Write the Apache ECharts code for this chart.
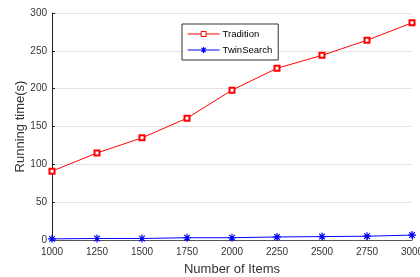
<!DOCTYPE html>
<html>
<head>
<meta charset="utf-8">
<script src="https://cdn.jsdelivr.net/npm/echarts@6/dist/echarts.min.js"></script>
<style>
  html, body { margin: 0; padding: 0; background: #fff; }
  #chart { width: 420px; height: 277px; }
</style>
</head>
<body>
<div id="chart"></div>
<script>
// running time chart

var items = [1000, 1250, 1500, 1750, 2000, 2250, 2500, 2750, 3000];
var tradition = [91, 115, 135, 161, 198, 227, 244, 264, 287];
var twinSearch = [1.5, 2, 2, 3, 3, 4, 4.5, 5, 6.5];

var asterisk = 'path://M0,5L10,5M5,0L5,10M1.5,1.5L8.5,8.5M8.5,1.5L1.5,8.5';
// legend icon: line with an asterisk in the middle (32 x 6 box)
var asteriskLegend = 'path://M0,3L32,3M16,0L16,6M13.9,0.9L18.1,5.1M18.1,0.9L13.9,5.1';
var rectLegend = 'path://M0,3L13.5,3M18.5,3L32,3M13.5,0.5L18.5,0.5L18.5,5.5L13.5,5.5Z';

function pairs(ys) {
    return items.map(function (x, i) { return [x, ys[i]]; });
}

var myChart = echarts.init(document.getElementById('chart'));
var option = {
    animation: false,
    textStyle: { fontFamily: 'Liberation Sans, Arial, sans-serif' },
    grid: { left: 52, right: 8, top: 13, bottom: 37, outerBoundsMode: 'none' },
    legend: {
        orient: 'vertical',
        left: 182,
        top: 24,
        width: 93,
        padding: [5, 6, 5, 5],
        itemGap: 6,
        itemWidth: 32,
        itemHeight: 6,
        borderColor: '#333',
        borderWidth: 1,
        borderRadius: 0,
        backgroundColor: '#fff',
        textStyle: { fontSize: 9.5, color: '#000', padding: [0, 0, 0, -2] },
        data: [
            { name: 'Tradition', icon: rectLegend, itemStyle: { color: 'transparent', borderColor: '#ff0000', borderWidth: 1 } },
            { name: 'TwinSearch', icon: asteriskLegend, itemStyle: { color: 'transparent', borderColor: '#0000ff', borderWidth: 1.2 } }
        ]
    },
    xAxis: {
        type: 'value',
        min: 1000,
        max: 3000,
        interval: 250,
        name: 'Number of Items',
        nameLocation: 'middle',
        nameGap: 23,
        nameMoveOverlap: false,
        nameTextStyle: { fontSize: 13, color: '#333' },
        splitLine: { show: false },
        axisLine: { lineStyle: { color: '#555', width: 1 } },
        axisTick: { inside: true, length: 3, lineStyle: { color: '#555' } },
        axisLabel: { fontSize: 10, color: '#333', margin: 7, formatter: function (v) { return String(v); } }
    },
    yAxis: {
        type: 'value',
        min: 0,
        max: 300,
        interval: 50,
        name: 'Running time(s)',
        nameLocation: 'middle',
        nameGap: 25,
        nameMoveOverlap: false,
        nameTextStyle: { fontSize: 13, color: '#333' },
        splitLine: { show: true, lineStyle: { color: '#e3e3e3' } },
        axisLine: { show: true, lineStyle: { color: '#222', width: 1 } },
        axisTick: { show: true, inside: true, length: 3, lineStyle: { color: '#222' } },
        axisLabel: { fontSize: 10, color: '#333', margin: 5 }
    },
    series: [
        {
            name: 'Tradition',
            type: 'line',
            data: pairs(tradition),
            symbol: 'emptyRect',
            symbolSize: 5,
            showAllSymbol: true,
            lineStyle: { color: '#ff0000', width: 1 },
            itemStyle: { color: '#ff0000', borderColor: '#ff0000', borderWidth: 0.9 }
        },
        {
            name: 'TwinSearch',
            type: 'line',
            data: pairs(twinSearch),
            symbol: asterisk,
            symbolSize: 8,
            showAllSymbol: true,
            lineStyle: { color: '#0000ff', width: 1 },
            itemStyle: { color: '#0000ff', borderColor: '#0000ff', borderWidth: 1.2 }
        }
    ]
};

myChart.setOption(option);
window.onresize = myChart.resize;
</script>
</body>
</html>
